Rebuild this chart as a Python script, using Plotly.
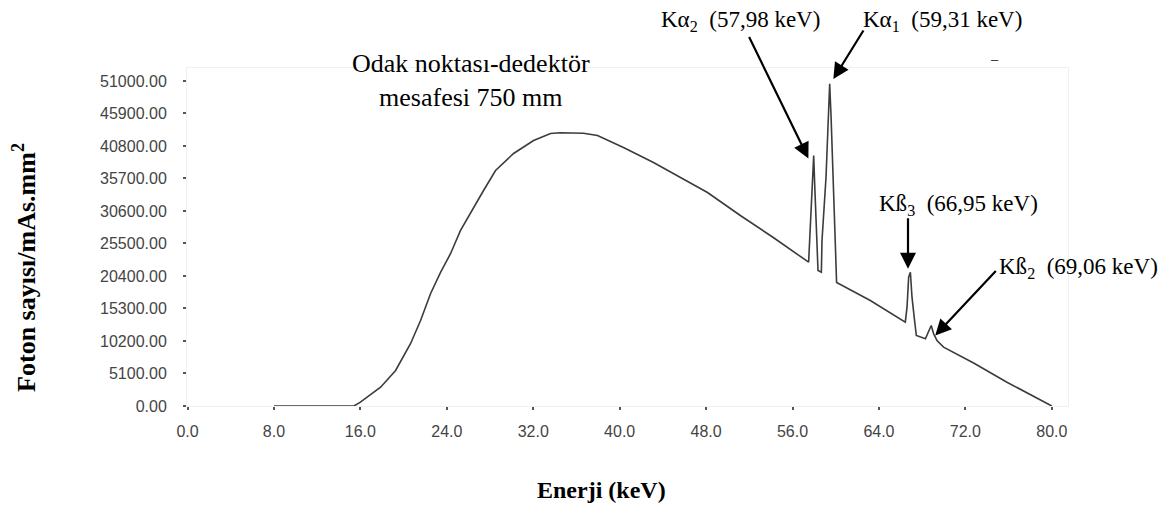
import plotly.graph_objects as go

# Spectrum data (energy in keV, photon count per mAs.mm^2)
energy = [8.0, 15.4, 16.0, 17.87, 19.26, 20.65, 21.57, 22.50, 23.42, 24.35, 25.27,
          26.48, 27.40, 28.51, 30.18, 32.03, 33.60, 34.50, 36.65, 37.95, 40.35,
          43.13, 45.63, 48.13, 51.17, 54.22, 57.49, 57.56, 57.72, 57.86, 57.96,
          58.05, 58.21, 58.36, 58.67, 58.73, 59.10, 59.29, 59.44, 59.57, 59.75,
          59.96, 60.08, 63.20, 66.44, 66.60, 66.75, 66.91, 67.06, 67.28, 67.46,
          68.30, 68.59, 68.84, 69.06, 69.37, 69.98, 71.22, 72.76, 75.85, 80.0]
counts = [0, 0, 600, 2950, 5570, 9810, 13420, 17650, 20950, 23930, 27540,
          31150, 33810, 36950, 39620, 41660, 42760, 42880, 42800, 42440, 40560,
          38200, 35850, 33500, 29890, 26440, 22560, 25450, 30670, 35900, 39300,
          34860, 25970, 21260, 20990, 25970, 35900, 45310, 50550, 45310, 34860,
          24920, 19370, 16550, 13150, 15500, 20210, 20990, 17070, 13680, 11060,
          10540, 11580, 12630, 11330, 10280, 9230, 8080, 6750, 3730, 0]

x_ticks = [0, 8, 16, 24, 32, 40, 48, 56, 64, 72, 80]
y_ticks = [0, 5100, 10200, 15300, 20400, 25500, 30600, 35700, 40800, 45900, 51000]

# Peak labels: text, label position (paper), arrow head (data), arrow tail offset (px)
peak_texts = ["Kα<sub>2</sub>  (57,98 keV)", "Kα<sub>1</sub>  (59,31 keV)",
              "Kß<sub>3</sub>  (66,95 keV)", "Kß<sub>2</sub>  (69,06 keV)"]
label_px = [0.6277, 0.8576, 0.8757, 1.0119]
label_py = [1.139, 1.139, 0.5947, 0.4083]
head_x = [57.47, 59.78, 66.69, 69.21]
head_y = [38830, 51300, 21530, 11060]
tail_dx = [-60, 31, 0, 62]
tail_dy = [-123, -50, -52, -66]

note_text = "Odak noktası-dedektör<br>mesafesi 750 mm"
x_title = "Enerji (keV)"
y_title = "Foton sayısı/mAs.mm<sup>2</sup>"

serif = "Liberation Serif, Times New Roman, serif"
sans = "Liberation Sans, Arial, sans-serif"

fig = go.Figure()
fig.add_trace(go.Scatter(x=energy, y=counts, mode="lines",
                         line=dict(color="#3c3c3c", width=1.6),
                         hoverinfo="skip", showlegend=False))

annotations = []
for i, text in enumerate(peak_texts):
    annotations.append(dict(x=label_px[i], y=label_py[i], xref="paper", yref="paper",
                            text=text, showarrow=False,
                            font=dict(family=serif, size=23, color="black"),
                            xanchor="center", yanchor="middle"))
    annotations.append(dict(x=head_x[i], y=head_y[i], xref="x", yref="y", text="",
                            showarrow=True, ax=tail_dx[i], ay=tail_dy[i],
                            arrowhead=2, arrowsize=1.45, arrowwidth=2.2,
                            arrowcolor="black"))
annotations.append(dict(x=0.3218, y=0.963, xref="paper", yref="paper", text=note_text,
                        showarrow=False, align="center",
                        font=dict(family=serif, size=26, color="black"),
                        xanchor="center", yanchor="middle"))
annotations.append(dict(x=0.47, y=-0.2485, xref="paper", yref="paper",
                        text="<b>" + x_title + "</b>", showarrow=False,
                        font=dict(family=serif, size=24, color="black"),
                        xanchor="center", yanchor="middle"))
annotations.append(dict(x=-0.1845, y=0.41, xref="paper", yref="paper",
                        text="<b>" + y_title + "</b>", showarrow=False, textangle=-90,
                        font=dict(family=serif, size=26, color="black"),
                        xanchor="center", yanchor="middle"))
# small dash mark visible near the top-right of the frame in the reference
annotations.append(dict(x=0.917, y=1.024, xref="paper", yref="paper", text="–",
                        showarrow=False, font=dict(family=sans, size=13, color="#333"),
                        xanchor="center", yanchor="middle"))

fig.update_layout(
    width=1155, height=501,
    margin=dict(l=179, r=95, t=60, b=103),
    paper_bgcolor="white", plot_bgcolor="white",
    annotations=annotations,
    showlegend=False,
)
fig.update_xaxes(range=[-0.05, 81.5], tickvals=x_ticks, tickformat=".1f",
                 showgrid=False, zeroline=False,
                 showline=True, linecolor="#f0f0f0", linewidth=1, mirror=True,
                 ticks="outside", ticklen=3, tickwidth=2, tickcolor="#555",
                 ticklabelstandoff=8,
                 tickfont=dict(family=sans, size=16, color="#444"))
fig.update_yaxes(range=[0, 53030], tickvals=y_ticks, tickformat=".2f",
                 showgrid=False, zeroline=False,
                 showline=True, linecolor="#f0f0f0", linewidth=1, mirror=True,
                 ticks="outside", ticklen=3, tickwidth=2, tickcolor="#555",
                 ticklabelstandoff=13,
                 tickfont=dict(family=sans, size=16, color="#444"))

fig.write_html("out.html")
